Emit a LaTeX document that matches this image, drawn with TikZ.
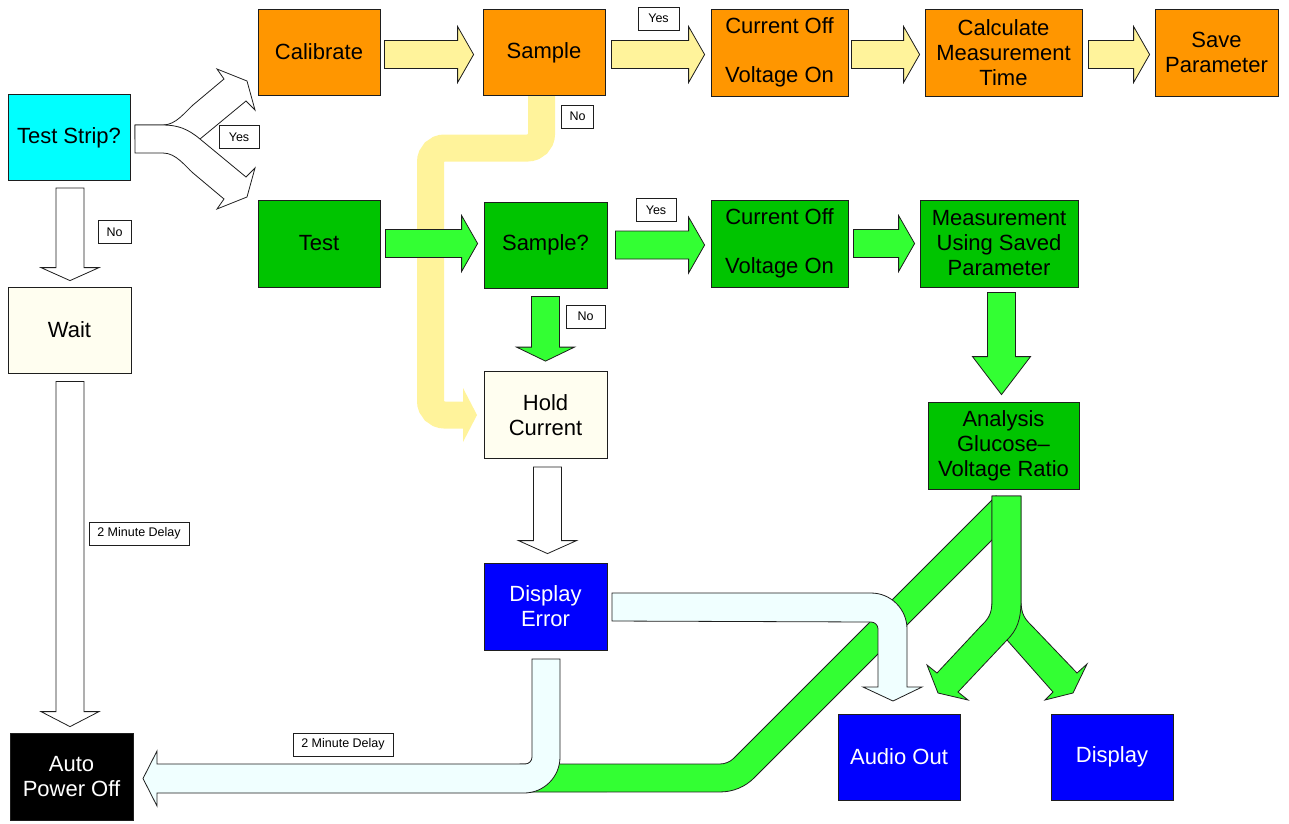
\documentclass[tikz,border=0pt]{standalone}
\usepackage{fontspec}
\setmainfont{Liberation Sans}
\usetikzlibrary{calc}
\definecolor{orng}{RGB}{255,150,0}
\definecolor{gbox}{RGB}{0,196,0}
\definecolor{gflow}{RGB}{51,255,51}
\definecolor{yflow}{RGB}{255,243,155}
\definecolor{azflow}{RGB}{240,255,255}
\definecolor{ivory}{RGB}{255,254,240}
\definecolor{bbox}{RGB}{0,0,255}
\definecolor{cbox}{RGB}{0,255,255}
\definecolor{edge}{RGB}{30,30,30}

% horizontal block arrow: [y offset]{from}{to}{start gap}{end gap}{head length}{fill}
\newcommand\hblock[7][0]{%
  \filldraw[blockline,fill=#7] let \p1=($(#2.east)+(0,#1)$), \p2=(#3.west) in
    (\x1+#4pt,\y1+14pt) -- (\x2-#5pt-#6pt,\y1+14pt) -- (\x2-#5pt-#6pt,\y1+28pt)
    -- (\x2-#5pt,\y1) -- (\x2-#5pt-#6pt,\y1-28pt) -- (\x2-#5pt-#6pt,\y1-14pt)
    -- (\x1+#4pt,\y1-14pt) -- cycle;}
% vertical block arrow: [x offset]{from}{to}{start gap}{end gap}{head length}{fill}
\newcommand\vblock[7][0]{%
  \filldraw[blockline,fill=#7] let \p1=($(#2.south)+(#1,0)$), \p2=(#3.north) in
    (\x1-14pt,\y1-#4pt) -- (\x1+14pt,\y1-#4pt) -- (\x1+14pt,\y2+#5pt+#6pt)
    -- (\x1+29pt,\y2+#5pt+#6pt) -- (\x1,\y2+#5pt) -- (\x1-29pt,\y2+#5pt+#6pt)
    -- (\x1-14pt,\y2+#5pt+#6pt) -- cycle;}

\begin{document}
\begin{tikzpicture}[x=1pt,y=-1pt,
  box/.style={draw=edge,line width=0.8pt,inner sep=0pt,align=center,
    font=\fontsize{22}{25}\selectfont,minimum width=122pt,minimum height=86pt},
  blockline/.style={draw=edge,line width=0.8pt,line join=miter},
  tag/.style={draw=edge,line width=0.6pt,fill=white,inner sep=0pt,
    minimum height=23pt,font=\fontsize{12.5}{14}\selectfont}]
\useasboundingbox (0,0) rectangle (1289,823);

% process boxes
\node[box,fill=cbox] (strip) at (69,137.5) {Test Strip?};
\node[box,fill=orng] (calib) at (319,52) {Calibrate};
\node[box,fill=orng] (samp1) at (544,52.5) {Sample};
\node[box,fill=orng,minimum width=137pt,minimum height=87pt] (coff1) at (779.5,52.5) {Current Off\\[24pt]Voltage On};
\node[box,fill=orng,minimum width=157pt,minimum height=87pt] (calc) at (1003.5,52.5) {Calculate\\Measurement\\Time};
\node[box,fill=orng,minimum width=123pt,minimum height=87pt] (save) at (1216.5,52.5) {Save\\Parameter};
\node[box,fill=gbox,minimum height=87pt] (test) at (319,243.5) {Test};
\node[box,fill=gbox,minimum width=123pt] (samp2) at (545.5,245) {Sample?};
\node[box,fill=gbox,minimum width=137pt,minimum height=87pt] (coff2) at (779.5,243.5) {Current Off\\[24pt]Voltage On};
\node[box,fill=gbox,minimum width=158pt,minimum height=87pt] (meas) at (999,243.5) {Measurement\\Using Saved\\Parameter};
\node[box,fill=gbox,minimum width=151pt,minimum height=87pt] (anal) at (1003.5,445.5) {Analysis\\Glucose–\\Voltage Ratio};
\node[box,fill=ivory,minimum width=123pt] (wait) at (69.5,330) {Wait};
\node[box,fill=ivory,minimum width=123pt,minimum height=87pt] (hold) at (545.5,415) {Hold\\Current};
\node[box,fill=bbox,text=white,minimum width=123pt,minimum height=87pt] (derr) at (545.5,606.5) {Display\\Error};
\node[box,fill=black,text=white,minimum width=123pt,minimum height=87pt] (apo) at (71.5,776.5) {Auto\\Power Off};
\node[box,fill=bbox,text=white] (audio) at (899,757) {Audio Out};
\node[box,fill=bbox,text=white] (disp) at (1112,757) {Display};

% "No" route from the calibration sample to Hold Current
\draw[yflow,line width=27pt,rounded corners=14pt]
  (541.5,96) -- (541.5,148) -- (430.5,148) -- (430.5,415) -- (464,415);
\fill[yflow] (463,388) -- (477,415) -- (463,442) -- cycle;

% fork out of Test Strip?
\filldraw[blockline,fill=white] (135,125) -- (163,125)
  .. controls (176,125) and (185,112) .. (193,105) -- (224,79) -- (217,69)
  -- (247,81) -- (255,110) -- (246,101) -- (200,139) -- (135,139) -- cycle;
\filldraw[blockline,fill=white] (135,125) -- (163,125)
  .. controls (178,125) and (188,129) .. (200,139) -- (246,177) -- (255,168)
  -- (247,197) -- (217,209) -- (224,199) -- (193,173)
  .. controls (185,166) and (176,153) .. (163,153) -- (135,153) -- cycle;

% straight block arrows
\hblock[2.5]{calib}{samp1}{4}{9}{16}{yflow}
\hblock[2]{samp1}{coff1}{6}{6}{16}{yflow}
\hblock[2]{coff1}{calc}{3}{5}{16}{yflow}
\hblock[2]{calc}{save}{6}{5}{16}{yflow}
\hblock{test}{samp2}{5}{6}{16}{gflow}
\hblock{samp2}{coff2}{8}{6}{16}{gflow}
\hblock{coff2}{meas}{5}{5}{16}{gflow}
\vblock[1]{strip}{wait}{7}{6}{13}{white}
\vblock{samp2}{hold}{8}{10}{14}{gflow}
\vblock[2]{hold}{derr}{8}{9}{13}{white}
\vblock[0.5]{wait}{apo}{8}{6}{15}{white}
\vblock[2.5]{meas}{anal}{5}{7}{38}{gflow}

% green branch from the analysis down to the bottom run
\filldraw[blockline,fill=gflow] (520,764) -- (719.7,764)
  arc[start angle=90,end angle=45,radius=20] -- (996,496) -- (996,536)
  -- (754.1,777.9) arc[start angle=45,end angle=90,radius=48]
  -- (520,792) -- cycle;

% Display Error to Audio Out
\filldraw[blockline,fill=azflow] (612,593) -- (871,593)
  arc[start angle=-90,end angle=0,radius=36] -- (907,687) -- (922,687)
  -- (893,701) -- (863,687) -- (878,687) -- (878,629)
  arc[start angle=0,end angle=-90,radius=7] -- (612,621) -- cycle;

% Display Error to Auto Power Off
\filldraw[blockline,fill=azflow] (532,659) -- (560,659) -- (560,757)
  arc[start angle=0,end angle=90,radius=36] -- (157,793) -- (157,806)
  -- (143,778.5) -- (157,751) -- (157,764) -- (525,764)
  arc[start angle=90,end angle=0,radius=7] -- cycle;

% analysis outputs: stem with right and left branches
\filldraw[blockline,fill=gflow] (992,496) -- (1021,496) -- (1021,600)
  .. controls (1021,615) and (1025,619) .. (1033,627) -- (1077,673)
  -- (1087,664) -- (1073,693) -- (1045,700) -- (1053,692) -- (1007,640)
  -- (992,622) -- cycle;
\filldraw[blockline,fill=gflow] (992,496) -- (992,600)
  .. controls (992,615) and (988,619) .. (980,627) -- (937,673)
  -- (927,665) -- (938,693) -- (968,700) -- (958,692) -- (1007,640)
  .. controls (1017,630) and (1021,620) .. (1021,600) -- (1021,496) -- cycle;

% condition and delay tags
\node[tag,minimum width=41pt] (ytop) at (658.5,18.5) {Yes};
\node[tag,minimum width=32pt] (ntop) at (577.5,116.5) {No};
\node[tag,minimum width=40pt] (yleft) at (239,137) {Yes};
\node[tag,minimum width=40pt] (ymid) at (656,210) {Yes};
\node[tag,minimum width=33pt] (nleft) at (114.5,232) {No};
\node[tag,minimum width=39pt] (nmid) at (585.5,316.5) {No};
\node[tag,minimum width=100pt] (dly1) at (139,533.5) {2 Minute Delay};
\node[tag,minimum width=100pt] (dly2) at (343,744.5) {2 Minute Delay};
\end{tikzpicture}
\end{document}
